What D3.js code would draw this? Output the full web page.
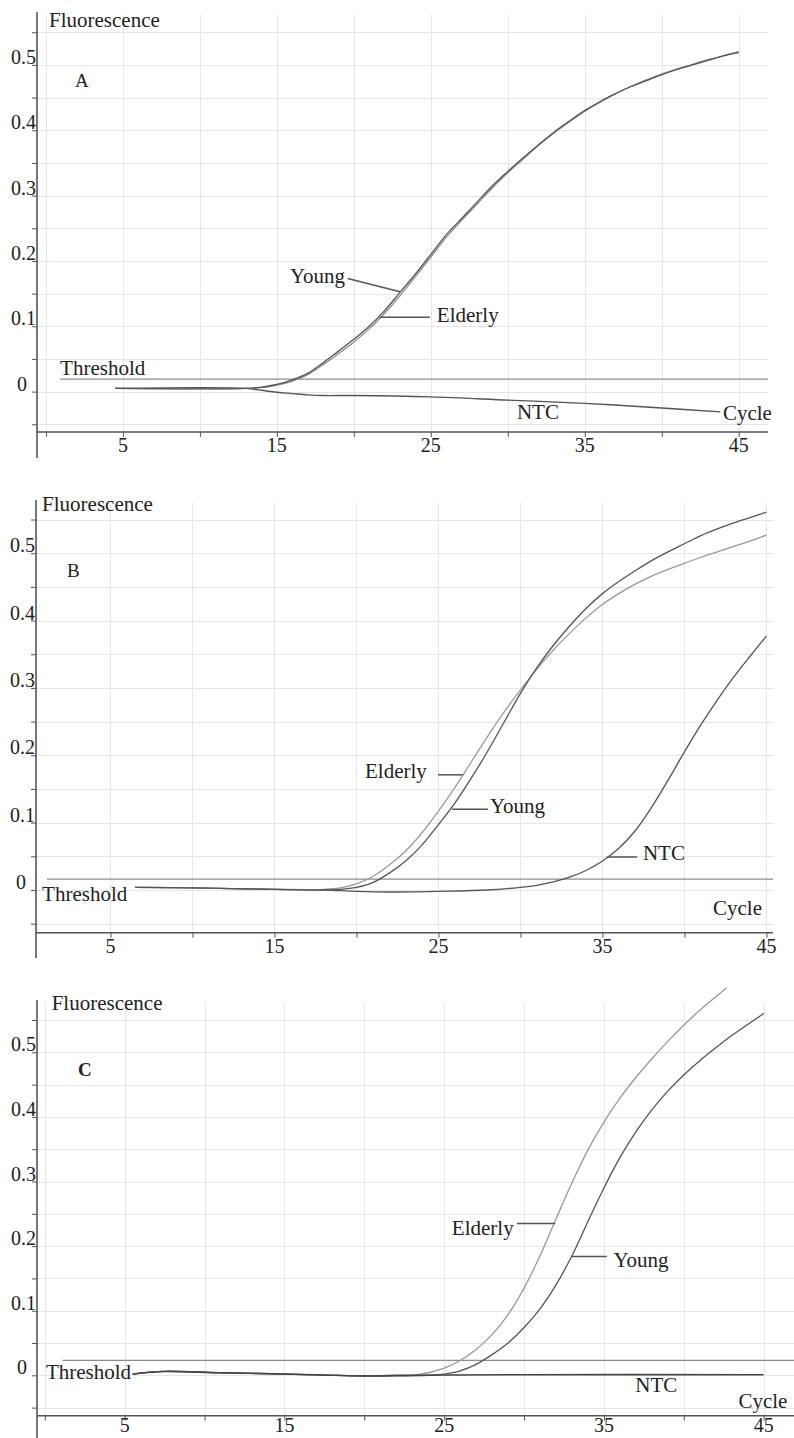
<!DOCTYPE html>
<html>
<head>
<meta charset="utf-8">
<script src="https://cdn.jsdelivr.net/npm/d3@7"></script>
<style>
  body { margin: 0; background: #fff; }
  svg { display: block; }
  text { font-family: "Liberation Serif", "DejaVu Serif", serif; fill: #222; }
</style>
</head>
<body>
<div id="chart"></div>
<script>
var svgWidth = 794;
var svgHeight = 1438;

// tick values shared by the three panels
var cycleLabels = [5, 15, 25, 35, 45];
var cycleTicks = [0, 5, 10, 15, 20, 25, 30, 35, 40, 45];
var fluorLabels = [0, 0.1, 0.2, 0.3, 0.4, 0.5];
var fluorTicks = [-0.05, 0, 0.05, 0.1, 0.15, 0.2, 0.25, 0.3, 0.35, 0.4, 0.45, 0.5, 0.55];

var thresholds = [0.019, 0.016, 0.023];

// panel A  [cycle, fluorescence]
var aYoung = [[4.5, 0.005], [13, 0.005], [14, 0.007], [15, 0.011], [16, 0.018], [17, 0.028], [18, 0.044],
  [19, 0.062], [20, 0.08], [21, 0.1], [22, 0.124], [23, 0.152], [24, 0.18], [25, 0.21], [26, 0.24],
  [27, 0.265], [28, 0.29], [29, 0.315], [30, 0.337], [31, 0.358], [32, 0.378], [33, 0.397], [34, 0.414],
  [35, 0.43], [36, 0.444], [37, 0.456], [38, 0.467], [39, 0.476], [40, 0.485], [41, 0.493], [42, 0.5],
  [43, 0.507], [44, 0.514], [45, 0.52]];
var aElderly = [[4.5, 0.005], [13, 0.005], [14, 0.006], [15, 0.01], [16, 0.016], [17, 0.026], [18, 0.041],
  [19, 0.058], [20, 0.076], [21, 0.096], [22, 0.12], [23, 0.147], [24, 0.176], [25, 0.206], [26, 0.236],
  [27, 0.262], [28, 0.287], [29, 0.312], [30, 0.335], [31, 0.356], [32, 0.377], [33, 0.396], [34, 0.413],
  [35, 0.429], [36, 0.443], [37, 0.456], [38, 0.467], [39, 0.477], [40, 0.486], [41, 0.494], [42, 0.501],
  [43, 0.508], [44, 0.514], [45, 0.519]];
var aNTC = [[4.5, 0.005], [13, 0.005], [14, 0.002], [15, -0.001], [16, -0.003], [17, -0.005], [18, -0.006],
  [20, -0.006], [25, -0.008], [30, -0.013], [35, -0.018], [40, -0.025], [43.8, -0.031]];

// panel B
var bYoung = [[6.5, 0.004], [10, 0.003], [15, 0.001], [18, 0.0], [19, 0.001], [20, 0.004], [21, 0.011],
  [22, 0.025], [23, 0.043], [24, 0.067], [25, 0.097], [26, 0.129], [27, 0.166], [28, 0.206], [29, 0.249],
  [30, 0.292], [31, 0.33], [32, 0.363], [33, 0.392], [34, 0.418], [35, 0.44], [36, 0.458], [37, 0.474],
  [38, 0.489], [39, 0.502], [40, 0.514], [41, 0.526], [42, 0.536], [43, 0.545], [44, 0.553], [45, 0.561]];
var bElderly = [[6.5, 0.004], [10, 0.003], [15, 0.001], [18, 0.001], [19, 0.003], [20, 0.009], [21, 0.02],
  [22, 0.037], [23, 0.058], [24, 0.085], [25, 0.117], [26, 0.152], [27, 0.19], [28, 0.228], [29, 0.264],
  [30, 0.297], [31, 0.328], [32, 0.356], [33, 0.381], [34, 0.404], [35, 0.424], [36, 0.44], [37, 0.454],
  [38, 0.466], [39, 0.476], [40, 0.485], [41, 0.494], [42, 0.502], [43, 0.51], [44, 0.518], [45, 0.527]];
var bNTC = [[6.5, 0.004], [10, 0.003], [15, 0.001], [18, 0.0], [20, -0.002], [22, -0.003], [25, -0.002],
  [28, 0.0], [30, 0.004], [31, 0.007], [32, 0.012], [33, 0.019], [34, 0.029], [35, 0.043], [36, 0.062],
  [37, 0.088], [38, 0.123], [39, 0.163], [40, 0.205], [41, 0.245], [42, 0.282], [43, 0.316], [44, 0.347],
  [45, 0.377]];

// panel C
var cYoung = [[5.5, 0.002], [7.5, 0.006], [11, 0.004], [15, 0.002], [18, 0.0], [20, -0.001], [22, -0.001],
  [24, 0.0], [25, 0.002], [26, 0.007], [27, 0.017], [28, 0.032], [29, 0.05], [30, 0.074], [31, 0.103],
  [32, 0.14], [33, 0.185], [34, 0.238], [35, 0.29], [36, 0.337], [37, 0.377], [38, 0.411], [39, 0.44],
  [40, 0.465], [41, 0.487], [42, 0.507], [43, 0.526], [44, 0.543], [45, 0.56]];
var cElderly = [[5.5, 0.002], [7.5, 0.006], [11, 0.004], [15, 0.002], [18, 0.0], [20, -0.001], [22, -0.001],
  [23, 0.0], [24, 0.004], [25, 0.011], [26, 0.023], [27, 0.04], [28, 0.063], [29, 0.094], [30, 0.135],
  [31, 0.185], [32, 0.242], [33, 0.298], [34, 0.349], [35, 0.392], [36, 0.429], [37, 0.461], [38, 0.49],
  [39, 0.517], [40, 0.542], [41, 0.565], [42, 0.586], [43, 0.606], [44, 0.624]];
var cNTC = [[5.5, 0.002], [7.5, 0.006], [11, 0.004], [15, 0.002], [18, 0.0], [20, -0.001], [22, 0.0],
  [30, 0.001], [45, 0.001]];

var panels = [
  {
    id: "a", letter: "A", bold: false,
    xDomain: [-0.58, 46.9], xRange: [37, 768],
    yDomain: [-0.0618, 0.581], yRange: [432, 12], axisBottom: 458, xLabelGap: 20, clipTop: 0.6,
    threshold: thresholds[0], thresholdStart: 0.92,
    titleAt: [0.2, 0.558], letterAt: [1.89, 0.466],
    series: [
      { data: aNTC, color: "#555", width: 1.4 },
      { data: aElderly, color: "#8a8a8a", width: 1.3 },
      { data: aYoung, color: "#555", width: 1.3 }
    ],
    labels: [
      { text: "Threshold", at: [0.92, 0.0254] },
      { text: "Young", at: [15.85, 0.166] },
      { text: "Elderly", at: [25.39, 0.106] },
      { text: "NTC", at: [30.59, -0.042] },
      { text: "Cycle", at: [43.97, -0.043] }
    ],
    leaders: [
      { from: [19.6, 0.173], to: [23.0, 0.153] },
      { from: [21.69, 0.114], to: [24.94, 0.114] }
    ]
  },
  {
    id: "b", letter: "B", bold: false,
    xDomain: [0.46, 45.4], xRange: [36, 773],
    yDomain: [-0.0634, 0.579], yRange: [932.7, 500], axisBottom: 958, xLabelGap: 20, clipTop: 0.6,
    threshold: thresholds[1], thresholdStart: 1.13,
    titleAt: [0.83, 0.562], letterAt: [2.35, 0.465],
    series: [
      { data: bNTC, color: "#555", width: 1.3 },
      { data: bElderly, color: "#999", width: 1.3 },
      { data: bYoung, color: "#555", width: 1.3 }
    ],
    labels: [
      { text: "Threshold", at: [0.83, -0.016] },
      { text: "Elderly", at: [20.52, 0.166] },
      { text: "Young", at: [28.14, 0.114] },
      { text: "NTC", at: [37.47, 0.045] },
      { text: "Cycle", at: [41.74, -0.037] }
    ],
    leaders: [
      { from: [24.97, 0.171], to: [26.49, 0.171] },
      { from: [25.83, 0.12], to: [28.02, 0.12] },
      { from: [35.28, 0.049], to: [37.11, 0.049] }
    ]
  },
  {
    id: "c", letter: "C", bold: true,
    xDomain: [-0.49, 46.9], xRange: [37, 794],
    yDomain: [-0.0625, 0.581], yRange: [1415.7, 1000], axisBottom: 1438, xLabelGap: 16, clipTop: 0.6,
    threshold: thresholds[2], thresholdStart: 1.1,
    titleAt: [0.43, 0.565], letterAt: [2.08, 0.463],
    series: [
      { data: cElderly, color: "#999", width: 1.3 },
      { data: cYoung, color: "#555", width: 1.3 },
      { data: cNTC, color: "#444", width: 1.6 }
    ],
    labels: [
      { text: "Threshold", at: [0.07, -0.006] },
      { text: "Elderly", at: [25.48, 0.217] },
      { text: "Young", at: [35.6, 0.168] },
      { text: "NTC", at: [36.96, -0.026] },
      { text: "Cycle", at: [43.42, -0.051] }
    ],
    leaders: [
      { from: [29.55, 0.235], to: [31.95, 0.235] },
      { from: [32.99, 0.184], to: [35.18, 0.184] }
    ]
  }
];

var svg = d3.select("#chart")
  .append("svg")
  .attr("width", svgWidth)
  .attr("height", svgHeight)
  .attr("font-family", "Liberation Serif, DejaVu Serif, serif");

svg.append("rect")
  .attr("width", svgWidth)
  .attr("height", svgHeight)
  .attr("fill", "#fff");

var defs = svg.append("defs");

function drawPanel(p) {
  var x = d3.scaleLinear().domain(p.xDomain).range(p.xRange);
  var y = d3.scaleLinear().domain(p.yDomain).range(p.yRange);
  var g = svg.append("g");

  var left = p.xRange[0], right = p.xRange[1];
  var top = p.yRange[1], base = p.yRange[0];
  var shownCycles = cycleTicks.filter(function(d) { return x(d) > left + 2; });

  // curves above the plot are cut off where the instrument display ends
  defs.append("clipPath")
    .attr("id", "clip-" + p.id)
    .append("rect")
    .attr("x", left)
    .attr("y", y(p.clipTop))
    .attr("width", right - left)
    .attr("height", base - y(p.clipTop));

  // grid
  g.append("g").selectAll("line")
    .data(fluorTicks)
    .enter().append("line")
    .attr("x1", left).attr("x2", right)
    .attr("y1", function(d) { return Math.round(y(d)) + 0.5; })
    .attr("y2", function(d) { return Math.round(y(d)) + 0.5; })
    .attr("stroke", "#e6e6e6");

  g.append("g").selectAll("line")
    .data(shownCycles)
    .enter().append("line")
    .attr("x1", function(d) { return Math.round(x(d)) + 0.5; })
    .attr("x2", function(d) { return Math.round(x(d)) + 0.5; })
    .attr("y1", top + 3).attr("y2", base)
    .attr("stroke", "#e6e6e6");

  // threshold
  g.append("line")
    .attr("x1", x(p.thresholdStart)).attr("x2", right)
    .attr("y1", y(p.threshold)).attr("y2", y(p.threshold))
    .attr("stroke", "#8c8c8c")
    .attr("stroke-width", 1.2);

  // curves
  var line = d3.line()
    .x(function(d) { return x(d[0]); })
    .y(function(d) { return y(d[1]); })
    .curve(d3.curveCatmullRom.alpha(0.5));

  g.append("g")
    .attr("clip-path", "url(#clip-" + p.id + ")")
    .selectAll("path")
    .data(p.series)
    .enter().append("path")
    .attr("d", function(s) { return line(s.data); })
    .attr("fill", "none")
    .attr("stroke", function(s) { return s.color; })
    .attr("stroke-width", function(s) { return s.width; });

  // axes: ticks from d3, axis lines drawn long like the original
  var yAxis = g.append("g")
    .attr("transform", "translate(" + left + ",0)")
    .call(d3.axisLeft(y).tickValues(fluorTicks).tickSize(5).tickFormat(""));
  yAxis.select(".domain").remove();
  yAxis.selectAll(".tick line").attr("stroke", "#555");

  var xAxis = g.append("g")
    .attr("transform", "translate(0," + base + ")")
    .call(d3.axisBottom(x).tickValues(shownCycles).tickSize(5).tickFormat(""));
  xAxis.select(".domain").remove();
  xAxis.selectAll(".tick line").attr("stroke", "#555");

  g.append("line")
    .attr("x1", left).attr("x2", left)
    .attr("y1", top).attr("y2", p.axisBottom)
    .attr("stroke", "#555").attr("stroke-width", 1.6);
  g.append("line")
    .attr("x1", left).attr("x2", right)
    .attr("y1", base).attr("y2", base)
    .attr("stroke", "#555").attr("stroke-width", 1.6);

  // tick labels
  g.selectAll("text.ylab")
    .data(fluorLabels)
    .enter().append("text")
    .attr("x", function(d) { return d === 0 ? left - 15 : left - 1; })
    .attr("y", function(d) { return y(d) - 1; })
    .attr("text-anchor", function(d) { return d === 0 ? "middle" : "end"; })
    .attr("font-size", 20)
    .text(function(d) { return d === 0 ? "0" : d3.format(".1f")(d); });

  g.selectAll("text.xlab")
    .data(cycleLabels)
    .enter().append("text")
    .attr("x", function(d) { return x(d); })
    .attr("y", base + p.xLabelGap)
    .attr("text-anchor", "middle")
    .attr("font-size", 20)
    .text(function(d) { return d; });

  // titles and annotations
  g.append("text")
    .attr("x", x(p.titleAt[0])).attr("y", y(p.titleAt[1]))
    .attr("font-size", 21)
    .text("Fluorescence");

  g.append("text")
    .attr("x", x(p.letterAt[0])).attr("y", y(p.letterAt[1]))
    .attr("font-size", 19)
    .attr("font-weight", p.bold ? "bold" : "normal")
    .text(p.letter);

  g.selectAll("text.note")
    .data(p.labels)
    .enter().append("text")
    .attr("x", function(d) { return x(d.at[0]); })
    .attr("y", function(d) { return y(d.at[1]); })
    .attr("font-size", 21)
    .text(function(d) { return d.text; });

  g.selectAll("line.leader")
    .data(p.leaders)
    .enter().append("line")
    .attr("x1", function(d) { return x(d.from[0]); })
    .attr("y1", function(d) { return y(d.from[1]); })
    .attr("x2", function(d) { return x(d.to[0]); })
    .attr("y2", function(d) { return y(d.to[1]); })
    .attr("stroke", "#555")
    .attr("stroke-width", 1.5);
}

panels.forEach(drawPanel);
</script>
</body>
</html>
